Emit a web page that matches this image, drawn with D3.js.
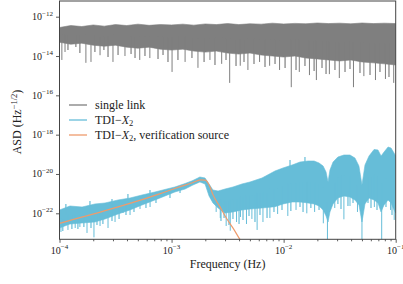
<!DOCTYPE html>
<html><head><meta charset="utf-8">
<script src="https://cdn.jsdelivr.net/npm/d3@7"></script>
<style>body{margin:0;background:#fff}svg{display:block}</style></head>
<body>
<svg id="c" width="403" height="284"></svg>
<script>
// ---------------- data ----------------
const gridF = [1e-4,1.26e-4,1.58e-4,2.0e-4,2.51e-4,3.16e-4,3.98e-4,5.01e-4,6.31e-4,7.94e-4,
  1e-3,1.26e-3,1.58e-3,2.0e-3,2.51e-3,3.16e-3,3.98e-3,5.01e-3,6.31e-3,7.94e-3,
  1e-2,1.26e-2,1.58e-2,2.0e-2,2.51e-2,3.16e-2,3.98e-2,5.01e-2,6.31e-2,7.94e-2,1e-1];
const singleLinkTop = [2.82e-13,3.55e-13,3.16e-13,3.80e-13,3.31e-13,3.98e-13,3.55e-13,4.17e-13,3.63e-13,3.98e-13,
  3.80e-13,4.17e-13,3.72e-13,4.27e-13,3.98e-13,4.47e-13,3.98e-13,4.37e-13,4.17e-13,4.68e-13,
  4.27e-13,4.57e-13,4.37e-13,4.79e-13,4.47e-13,4.68e-13,4.37e-13,4.79e-13,4.47e-13,4.68e-13,4.47e-13];
const singleLinkLow = [5.01e-14,3.98e-14,4.47e-14,3.55e-14,3.16e-14,3.55e-14,2.82e-14,2.51e-14,2.82e-14,2.24e-14,
  2.0e-14,2.24e-14,1.78e-14,1.58e-14,1.78e-14,1.41e-14,1.26e-14,1.41e-14,1.12e-14,1.0e-14,
  8.9e-15,1.0e-14,7.9e-15,7.1e-15,6.3e-15,5.6e-15,6.3e-15,5.0e-15,4.5e-15,4.0e-15,3.5e-15];
// deep downward spikes
const singleLinkDips = [[1.05e-4,6.3e-15],[1.12e-4,1.6e-14],[1.72e-4,4.5e-15],[1.91e-4,5.0e-15],[2.3e-4,1.1e-14],
  [3.0e-4,5.0e-15],[3.84e-4,1.0e-14],[5.2e-4,6.3e-15],[6.4e-4,7.9e-15],[1.01e-3,1.55e-15],[1.32e-3,5.0e-15],
  [1.72e-3,2.5e-15],[2.2e-3,6.3e-15],[2.8e-3,4.0e-15],[3.3e-3,4.3e-16],[4.1e-3,3.2e-15],[4.8e-3,1.95e-15],
  [6.1e-3,5.0e-15],[7.5e-3,3.2e-15],[9.2e-3,1.95e-15],[1.17e-2,2.6e-16],[1.38e-2,1.55e-15],[1.7e-2,1.07e-15],
  [1.96e-2,6.0e-16],[2.56e-2,1.2e-15],[3.14e-2,7.6e-16],[4.2e-2,2.6e-16],[5.2e-2,9.5e-16],[6.6e-2,6.0e-16],
  [8.1e-2,6.8e-16],[9.6e-2,4.3e-16]];
// short downward spikes (ragged lower edge)
const singleLinkShortDips = [[1.19e-4,2.02e-14],[1.40e-4,2.88e-14],[1.52e-4,1.42e-14],[2.07e-4,1.60e-14],
  [2.49e-4,2.02e-14],[2.71e-4,8.9e-15],[3.33e-4,1.13e-14],[4.35e-4,1.27e-14],[4.72e-4,7.9e-15],[5.79e-4,1.0e-14],
  [7.57e-4,7.05e-15],[8.39e-4,1.13e-14],[9.29e-4,4.97e-15],[1.14e-3,6.28e-15],[1.52e-3,7.9e-15],[1.95e-3,4.97e-15],
  [2.44e-3,3.49e-15],[3.06e-3,6.28e-15],[3.76e-3,3.10e-15],[4.43e-3,4.97e-15],[5.44e-3,3.93e-15],[6.82e-3,2.77e-15],
  [8.38e-3,3.93e-15],[1.03e-2,2.46e-15],[1.29e-2,1.95e-15],[1.55e-2,3.10e-15],[1.87e-2,1.73e-15],[2.20e-2,2.46e-15],
  [2.39e-2,1.22e-15],[2.87e-2,1.95e-15],[3.53e-2,1.54e-15],[3.91e-2,2.19e-15],[4.80e-2,1.37e-15],[5.90e-2,1.08e-15],
  [7.24e-2,1.54e-15],[8.71e-2,8.6e-16]];

const tdiF = [1.0e-4,1.24e-4,1.59e-4,2.07e-4,2.55e-4,3.33e-4,4.26e-4,5.45e-4,7.11e-4,8.73e-4,1.07e-3,1.32e-3,
  1.55e-3,1.79e-3,1.99e-3,2.16e-3,2.34e-3,2.60e-3,3.0e-3,3.53e-3,4.25e-3,5.01e-3,6.41e-3,8.37e-3,9.87e-3,
  1.19e-2,1.40e-2,1.65e-2,1.87e-2,2.07e-2,2.25e-2,2.39e-2,2.49e-2,2.59e-2,2.76e-2,3.05e-2,3.45e-2,3.91e-2,
  4.33e-2,4.70e-2,5.00e-2,5.32e-2,5.78e-2,6.41e-2,6.95e-2,7.40e-2,7.87e-2,8.55e-2,9.09e-2,9.66e-2,1e-1];
const tdiTop = [1.48e-22,2.35e-22,2.09e-22,2.98e-22,3.35e-22,4.75e-22,6.0e-22,8.53e-22,1.21e-21,1.63e-21,2.18e-21,3.28e-21,
  4.67e-21,7.03e-21,6.25e-21,3.10e-21,1.53e-21,1.36e-21,1.72e-21,2.18e-21,3.10e-21,3.91e-21,6.25e-21,1.42e-20,2.02e-20,
  2.86e-20,4.06e-20,4.57e-20,4.57e-20,3.62e-20,2.55e-20,1.26e-20,3.91e-21,1.60e-20,4.06e-20,7.31e-20,9.23e-20,9.23e-20,
  6.50e-20,2.55e-20,2.75e-21,2.86e-20,8.22e-20,1.76e-19,1.66e-19,8.22e-20,1.31e-19,2.36e-19,2.09e-19,1.17e-19,8.22e-20];
const tdiLow = [1.79e-23,2.86e-23,3.22e-23,3.61e-23,5.14e-23,9.23e-23,1.48e-22,2.65e-22,4.75e-22,7.6e-22,1.21e-21,1.72e-21,
  2.75e-21,3.91e-21,3.10e-21,7.6e-22,3.35e-22,1.86e-22,1.04e-22,1.17e-22,1.48e-22,1.66e-22,1.86e-22,2.17e-22,2.98e-22,
  3.76e-22,3.76e-22,3.35e-22,2.98e-22,2.35e-22,1.48e-22,7.31e-23,3.61e-23,1.17e-22,2.98e-22,6.0e-22,7.6e-22,6.76e-22,
  4.75e-22,2.65e-22,3.61e-23,2.98e-22,6.0e-22,4.75e-22,3.35e-22,1.17e-22,2.65e-22,4.75e-22,3.35e-22,1.48e-22,1.04e-22];
const tdiDips = [[1.03e-4,1.12e-23],[1.10e-4,2.26e-23],[1.19e-4,1.42e-23],[1.38e-4,1.79e-23],[1.52e-4,2.01e-23],
  [1.76e-4,1.0e-23],[2.03e-4,6.0e-24],[2.30e-4,2.26e-23],[2.71e-4,1.79e-23],[3.13e-4,3.61e-23],[3.69e-4,1.04e-22],
  [4.26e-4,8.2e-23],[5.23e-4,1.66e-22],[6.43e-4,2.09e-22],[2.50e-3,1.17e-22],[2.72e-3,5.78e-23],[3.07e-3,2.26e-23],
  [3.34e-3,1.30e-23],[3.80e-3,3.61e-23],[4.12e-3,6.5e-23],[4.66e-3,2.86e-23],[5.21e-3,5.14e-23],[5.8e-3,1.42e-23],
  [6.54e-3,3.61e-23],[7.54e-3,5.78e-23],[8.84e-3,9.23e-23],[1.09e-2,7.31e-23],[1.29e-2,1.48e-22],[1.61e-2,1.0e-22],
  [1.89e-2,1.17e-22],[2.26e-2,3.1e-23],[2.46e-2,4.0e-24],[2.86e-2,1.86e-22],[3.45e-2,4.95e-23],[3.91e-2,2.35e-22],
  [4.56e-2,1.17e-22],[5.0e-2,4.0e-24],[6.45e-2,2.09e-22],[7.5e-2,4.0e-24],[9.0e-2,1.48e-22],[9.7e-2,4.6e-23]];
const tdiShortDips = [[1.07e-4,1.26e-23],[1.29e-4,1.59e-23],[1.46e-4,1.59e-23],[1.65e-4,2.01e-23],[1.91e-4,1.79e-23],
  [2.16e-4,2.55e-23],[2.44e-4,2.86e-23],[2.94e-4,4.06e-23],[3.40e-4,5.14e-23],[3.92e-4,8.2e-23],[4.62e-4,1.17e-22],
  [5.91e-4,1.86e-22],[7.26e-4,3.35e-22],[9.68e-4,6.0e-22],[1.19e-3,1.08e-21],[2.76e-3,4.06e-23],[2.94e-3,5.78e-23],
  [3.25e-3,2.55e-23],[3.53e-3,5.14e-23],[4.0e-3,2.86e-23],[4.34e-3,4.57e-23],[4.91e-3,7.31e-23],[5.55e-3,3.61e-23],
  [6.15e-3,8.2e-23],[7.11e-3,5.78e-23],[8.20e-3,1.17e-22],[9.67e-3,1.48e-22],[1.16e-2,1.31e-22],[1.40e-2,2.09e-22],
  [1.49e-2,1.17e-22],[1.75e-2,1.86e-22],[2.07e-2,1.48e-22],[3.05e-2,2.98e-22],[3.25e-2,1.66e-22],[3.75e-2,2.35e-22],
  [4.16e-2,3.35e-22],[5.66e-2,3.35e-22],[6.02e-2,1.86e-22],[6.81e-2,1.48e-22],[8.19e-2,2.09e-22],[9.27e-2,8.2e-23]];
const tdiPeaks = [[1.14e-4,2.98e-22],[1.87e-4,4.23e-22],[2.94e-4,5.34e-22],[4.08e-4,9.6e-22],[6.42e-4,1.53e-21],
  [1.14e-2,5.14e-20],[1.55e-2,7.31e-20]];

const sourceF = [1e-4,2.51e-4,5.01e-4,7.94e-4,1.12e-3,1.51e-3,1.82e-3,2.0e-3,2.19e-3,2.34e-3,2.69e-3,3.09e-3,3.55e-3,4.07e-3,4.47e-3];
const sourceA = [3.09e-23,1.32e-22,4.27e-22,1.0e-21,2.0e-21,3.47e-21,5.01e-21,4.9e-21,2.40e-21,8.9e-22,2.24e-22,5.6e-23,1.70e-23,4.7e-24,2.0e-24];

const xMajor = [1e-4,1e-3,1e-2,1e-1];
const xMajorExp = ["4","3","2","1"];
const yMajor = [1e-22,1e-20,1e-18,1e-16,1e-14,1e-12];
const yMajorExp = ["22","20","18","16","14","12"];
const legendLabels = ["single link","TDI\u2212X2","TDI\u2212X2, verification source"];

// ---------------- drawing ----------------
const L=59.5, R=395.7, T=1, B=239.3;
const FONT = "'Liberation Serif','Times New Roman',serif";
const cGray="#7f7f7f", cBlue="#66bdd8", cOrange="#ee9b6c";
const svg=d3.select("#c");
const x=d3.scaleLog().domain([1e-4,1e-1]).range([L,R]);
const y=d3.scaleLog().domain([4.76e-24,6.29e-12]).range([B,T]);

svg.append("defs").append("clipPath").attr("id","clip").append("rect")
  .attr("x",L).attr("y",T).attr("width",R-L).attr("height",B-T);
const g=svg.append("g").attr("clip-path","url(#clip)");

function band(F,top,low,color){
  const rows=F.map((f,i)=>({f,t:top[i],l:low[i]}));
  g.append("path").datum(rows)
    .attr("d",d3.area().x(d=>x(d.f)).y0(d=>y(d.l)).y1(d=>y(d.t)))
    .attr("fill",color).attr("stroke",color).attr("stroke-width",0.6);
}
function spikes(F,top,low,D,color,w){
  const bis=d3.bisector(d=>d).center;
  g.append("g").selectAll("line").data(D).join("line")
    .attr("x1",d=>x(d[0])).attr("x2",d=>x(d[0]))
    .attr("y1",d=>{const i=bis(F,d[0]);return y(Math.sqrt(top[i]*low[i]));})
    .attr("y2",d=>y(d[1]))
    .attr("stroke",color).attr("stroke-width",w);
}
band(gridF,singleLinkTop,singleLinkLow,cGray);
spikes(gridF,singleLinkTop,singleLinkLow,singleLinkDips,cGray,1);
spikes(gridF,singleLinkTop,singleLinkLow,singleLinkShortDips,cGray,1.2);
band(tdiF,tdiTop,tdiLow,cBlue);
spikes(tdiF,tdiTop,tdiLow,tdiDips,cBlue,1);
spikes(tdiF,tdiTop,tdiLow,tdiShortDips,cBlue,1.2);
spikes(tdiF,tdiTop,tdiLow,tdiPeaks,cBlue,1.2);
g.append("path").datum(sourceF.map((f,i)=>[f,sourceA[i]]))
  .attr("d",d3.line().x(d=>x(d[0])).y(d=>y(d[1])).curve(d3.curveMonotoneX))
  .attr("fill","none").attr("stroke",cOrange).attr("stroke-width",1.2);

// axes
const minors=[];
for(let e=-4;e<-1;e++) for(let m=2;m<10;m++) minors.push(m*Math.pow(10,e));
const axCol="#333";
const gx=svg.append("g").attr("transform",`translate(0,${B})`)
  .call(d3.axisBottom(x).tickValues(xMajor).tickSize(3.5).tickFormat(""));
const gxm=svg.append("g").attr("transform",`translate(0,${B})`)
  .call(d3.axisBottom(x).tickValues(minors).tickSize(2).tickFormat(""));
const gy=svg.append("g").attr("transform",`translate(${L},0)`)
  .call(d3.axisLeft(y).tickValues(yMajor).tickSize(3.5).tickFormat(""));
[gx,gxm,gy].forEach(a=>{a.select(".domain").remove();a.selectAll("line").attr("stroke",axCol).attr("stroke-width",0.8);});
svg.append("rect").attr("x",L).attr("y",T).attr("width",R-L).attr("height",B-T)
  .attr("fill","none").attr("stroke","#444").attr("stroke-width",1);

// tick labels
xMajor.forEach((v,i)=>{
  const t=svg.append("text").attr("x",x(v)).attr("y",253.5).attr("text-anchor","middle")
    .attr("font-family",FONT).attr("font-size",10).attr("fill","#222");
  t.append("tspan").text("10");
  t.append("tspan").attr("dy",-4.5).attr("font-size",7).text("\u2212"+xMajorExp[i]);
});
yMajor.forEach((v,i)=>{
  const t=svg.append("text").attr("x",53).attr("y",y(v)+3.5).attr("text-anchor","end")
    .attr("font-family",FONT).attr("font-size",10).attr("fill","#222");
  t.append("tspan").text("10");
  t.append("tspan").attr("dy",-4.5).attr("font-size",7).text("\u2212"+yMajorExp[i]);
});

// axis labels
svg.append("text").attr("x",(L+R)/2).attr("y",268).attr("text-anchor","middle")
  .attr("font-family",FONT).attr("font-size",12).attr("fill","#222").text("Frequency (Hz)");
const yl=svg.append("text").attr("transform",`translate(21,122) rotate(-90)`).attr("text-anchor","middle")
  .attr("font-family",FONT).attr("font-size",12).attr("fill","#222");
yl.append("tspan").text("ASD (Hz");
yl.append("tspan").attr("dy",-4.5).attr("font-size",8.5).text("\u22121/2");
yl.append("tspan").attr("dy",4.5).text(")");

// legend
const legColors=[cGray,cBlue,cOrange];
legendLabels.forEach((lab,i)=>{
  const yy=105+15*i;
  svg.append("line").attr("x1",69).attr("x2",87).attr("y1",yy).attr("y2",yy)
    .attr("stroke",legColors[i]).attr("stroke-width",1.3);
  const t=svg.append("text").attr("x",95).attr("y",yy+3.5)
    .attr("font-family",FONT).attr("font-size",12).attr("fill","#222");
  if(i===0){t.text(lab);}
  else{
    t.append("tspan").text("TDI\u2212");
    t.append("tspan").attr("font-style","italic").text("X");
    t.append("tspan").attr("dy",2.5).attr("font-size",8.5).text("2");
    if(i===2) t.append("tspan").attr("dy",-2.5).text(", verification source");
  }
});
</script>
</body></html>
